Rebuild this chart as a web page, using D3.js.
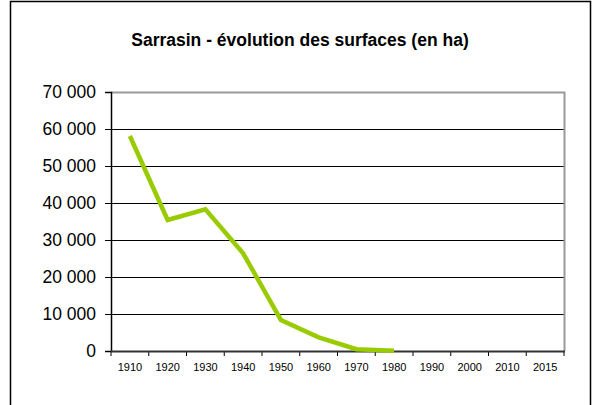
<!DOCTYPE html>
<html><head><meta charset="utf-8">
<script src="https://cdn.jsdelivr.net/npm/d3@7"></script>
<style>body{margin:0;background:#fff}svg{display:block}</style>
</head><body>
<svg id="c" width="594" height="405"></svg>
<script>
const title = "Sarrasin - évolution des surfaces (en ha)";
const categories = ["1910","1920","1930","1940","1950","1960","1970","1980","1990","2000","2010","2015"];
const values = [58100, 35400, 38300, 26400, 8400, 3700, 500, 100];
const yTicks = [0,10000,20000,30000,40000,50000,60000,70000];

const svg = d3.select("#c");
const L=111,R=564,T=92,B=351;

svg.append("rect").attr("x",10.5).attr("y",1.5).attr("width",580).attr("height",420)
  .attr("fill","#fff").attr("stroke","#000").attr("stroke-width",1.5);

svg.append("text").attr("x",300).attr("y",46).attr("text-anchor","middle")
  .attr("font-family","Arial, 'Liberation Sans', sans-serif").attr("font-weight","bold")
  .attr("font-size",17.5).attr("fill","#000").text(title);

const x = d3.scaleBand().domain(categories).range([L,R]);
const y = d3.scaleLinear().domain([0,70000]).range([B,T]);

const fmt = v => d3.format(",")(v).replace(/,/g," ");

svg.append("g").selectAll("line").data(yTicks.filter(d=>d>0 && d<70000)).join("line")
  .attr("x1",L).attr("x2",R).attr("y1",d=>y(d)+0.5).attr("y2",d=>y(d)+0.5)
  .attr("stroke","#000").attr("stroke-width",1);

svg.append("path").attr("d",`M${L},${T+0.5}H${R+0.5}V${B}`).attr("fill","none")
  .attr("stroke","#999").attr("stroke-width",2);

const ya = svg.append("g").attr("transform",`translate(${L},0)`)
  .call(d3.axisLeft(y).tickValues(yTicks).tickFormat(fmt).tickSize(6).tickPadding(9));
ya.select(".domain").attr("stroke","#000").attr("stroke-width",1.5);
ya.selectAll(".tick line").attr("stroke","#000");
ya.selectAll("text").attr("font-family","Arial, 'Liberation Sans', sans-serif").attr("font-size",17.5).attr("fill","#000");

const xa = svg.append("g").attr("transform",`translate(0,${B})`)
  .call(d3.axisBottom(x).tickSize(0).tickPadding(12));
xa.select(".domain").remove();
xa.selectAll("text").attr("font-family","Arial, 'Liberation Sans', sans-serif").attr("font-size",11).attr("fill","#000");
const edges = categories.map(c=>x(c)).concat([R]);
svg.append("g").selectAll("line").data(edges).join("line")
  .attr("x1",d=>d).attr("x2",d=>d).attr("y1",B).attr("y2",B+5).attr("stroke","#000");
svg.append("line").attr("x1",L).attr("x2",R+1).attr("y1",B+0.5).attr("y2",B+0.5)
  .attr("stroke","#333").attr("stroke-width",2);

const line = d3.line().x((d,i)=>x(categories[i])+x.bandwidth()/2).y(d=>y(d));
svg.append("path").datum(values).attr("d",line).attr("fill","none")
  .attr("stroke","#99cc00").attr("stroke-width",4.5).attr("stroke-linejoin","miter");
</script>
</body></html>
